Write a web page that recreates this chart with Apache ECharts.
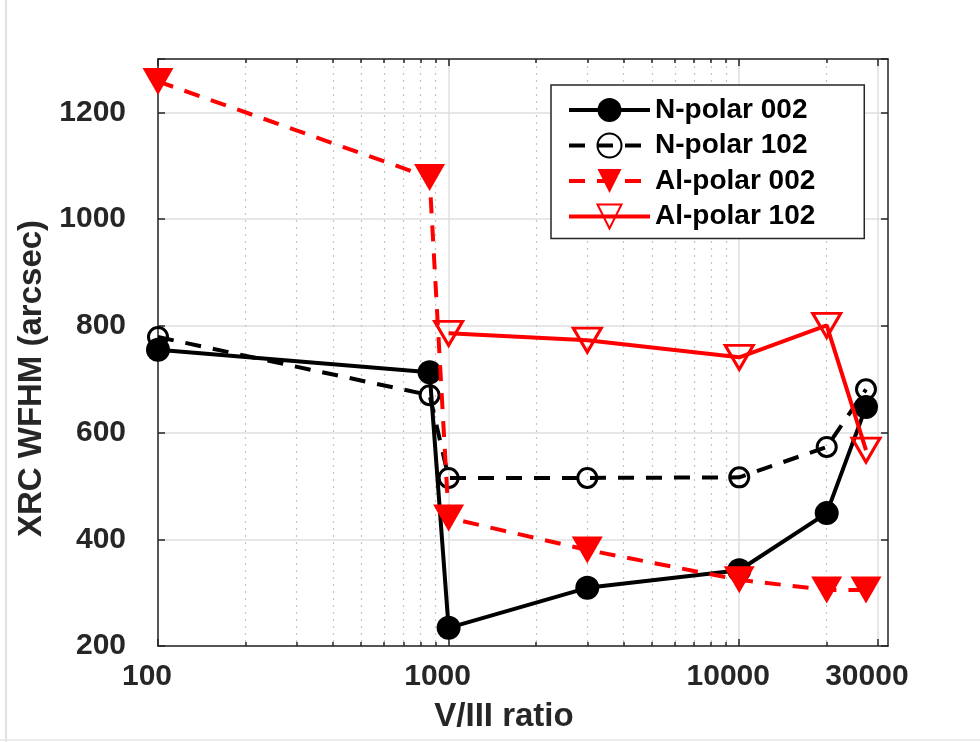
<!DOCTYPE html>
<html>
<head>
<meta charset="utf-8">
<script src="https://cdn.jsdelivr.net/npm/echarts@6/dist/echarts.min.js"></script>
<style>
  html, body { margin: 0; padding: 0; background: #fff; }
  #chart { width: 980px; height: 742px; }
</style>
</head>
<body>
<div id="chart"></div>
<script>
// V/III ratio positions of the samples
const ratioAll = [100, 860, 1000, 3000, 10000, 20000, 27300]
const ratioAl102 = [1000, 3000, 10000, 20000, 27300]

// XRC FWHM values (arcsec)
const nPolar002 = [755, 713, 234, 309, 342, 449, 648]
const nPolar102 = [779, 670, 515, 515, 516, 573, 681]
const alPolar002 = [1258, 1078, 440, 380, 324, 305, 305]
const alPolar102 = [786, 773, 741, 801, 567]

// tick values
const xMajorTicks = [100, 1000, 10000, 30000]
const xMinorTicks = [200, 300, 400, 500, 600, 700, 800, 900,
  2000, 3000, 4000, 5000, 6000, 7000, 8000, 9000, 20000]
const yTicks = [200, 400, 600, 800, 1000, 1200]

const axisColor = '#262626'
const fontFamily = '"Liberation Sans", Arial, Helvetica, sans-serif'

function pairs(xs, ys) {
  return xs.map((x, i) => [x, ys[i]])
}

const myChart = echarts.init(document.getElementById('chart'))

function logAxis(position, major, showLabel) {
  const ticks = major ? xMajorTicks : xMinorTicks
  return {
    type: 'log',
    logBase: 10,
    min: 100,
    max: 32500,
    position: position,
    axisLine: {show: major, onZero: false, lineStyle: {color: axisColor, width: 1.5}},
    axisTick: {show: true, inside: true, length: major ? 7 : 4, customValues: ticks,
      lineStyle: {color: axisColor, width: 1.5}},
    axisLabel: showLabel ? {
      show: true,
      customValues: xMajorTicks,
      formatter: v => String(Math.round(v)),
      fontSize: 30,
      fontWeight: 'bold',
      fontFamily: fontFamily,
      color: axisColor,
      margin: 16,
      padding: [0, 22, 0, 0]
    } : {show: false},
    splitLine: position === 'bottom' ? {
      show: true,
      lineStyle: major ? {color: '#dfdfdf', width: 1.5} : {color: '#c4c4c4', width: 1.2, type: [2, 5]}
    } : {show: false},
    minorTick: {show: false},
    minorSplitLine: {show: false},
    name: showLabel ? 'V/III ratio' : '',
    nameLocation: 'middle',
    nameGap: 54,
    nameTextStyle: {
      fontSize: 33, fontWeight: 'bold', fontFamily: fontFamily, color: axisColor,
      padding: [0, 38, 0, 0]
    }
  }
}

function valueAxis(position, showLabel) {
  return {
    type: 'value',
    min: 200,
    max: 1300,
    interval: 200,
    position: position,
    axisLine: {show: true, onZero: false, lineStyle: {color: axisColor, width: 1.5}},
    axisTick: {show: true, inside: true, length: 7, lineStyle: {color: axisColor, width: 1.5}},
    axisLabel: showLabel ? {
      show: true,
      customValues: yTicks,
      formatter: v => String(v),
      fontSize: 30,
      fontWeight: 'bold',
      fontFamily: fontFamily,
      color: axisColor,
      margin: 32
    } : {show: false},
    splitLine: position === 'left' ? {show: true, lineStyle: {color: '#dfdfdf', width: 1.5}} : {show: false},
    name: showLabel ? 'XRC WFHM (arcsec)' : '',
    nameLocation: 'middle',
    nameGap: 108,
    nameTextStyle: {
      fontSize: 33, fontWeight: 'bold', fontFamily: fontFamily, color: axisColor,
      padding: [0, 52, 0, 0]
    }
  }
}

let option = {
  animation: false,
  backgroundColor: '#fff',
  grid: {left: 158, right: 92, top: 59, bottom: 96, containLabel: false},
  graphic: [
    {type: 'line', shape: {x1: 6, y1: 0, x2: 6, y2: 742}, style: {stroke: '#d8d8d8', lineWidth: 1.5}, silent: true},
    {type: 'line', shape: {x1: 0, y1: 740, x2: 980, y2: 740}, style: {stroke: '#e6e6e6', lineWidth: 1.5}, silent: true}
  ],
  xAxis: [
    logAxis('bottom', false, false),
    logAxis('bottom', true, true),
    logAxis('top', false, false),
    logAxis('top', true, false)
  ],
  yAxis: [
    valueAxis('left', true),
    valueAxis('right', false)
  ],
  legend: {
    orient: 'vertical',
    left: 551,
    top: 85,
    padding: [11, 49, 8, 16],
    itemGap: 7.5,
    itemWidth: 81,
    itemHeight: 30,
    backgroundColor: '#fff',
    borderColor: axisColor,
    borderWidth: 1.5,
    borderRadius: 0,
    lineStyle: {width: 4},
    textStyle: {fontSize: 28, fontWeight: 'bold', fontFamily: fontFamily, color: '#000'},
    data: ['N-polar 002', 'N-polar 102', 'Al-polar 002', 'Al-polar 102']
  },
  series: [
    {
      name: 'N-polar 002',
      type: 'line',
      xAxisIndex: 1,
      data: pairs(ratioAll, nPolar002),
      symbol: 'circle',
      symbolSize: 24,
      itemStyle: {color: '#000'},
      lineStyle: {color: '#000', width: 4},
      z: 3
    },
    {
      name: 'N-polar 102',
      type: 'line',
      xAxisIndex: 1,
      data: pairs(ratioAll, nPolar102),
      symbol: 'circle',
      symbolSize: 19,
      itemStyle: {color: 'rgba(0,0,0,0)', borderColor: '#000', borderWidth: 3},
      lineStyle: {color: '#000', width: 4, type: [16, 12]},
      z: 4
    },
    {
      name: 'Al-polar 002',
      type: 'line',
      xAxisIndex: 1,
      data: pairs(ratioAll, alPolar002),
      symbol: 'triangle',
      symbolRotate: 180,
      symbolSize: [31, 27],
      itemStyle: {color: '#ff0000'},
      lineStyle: {color: '#ff0000', width: 4, type: [16, 12]},
      z: 5
    },
    {
      name: 'Al-polar 102',
      type: 'line',
      xAxisIndex: 1,
      data: pairs(ratioAl102, alPolar102),
      symbol: 'triangle',
      symbolRotate: 180,
      symbolSize: [28, 24],
      itemStyle: {color: 'rgba(255,255,255,0)', borderColor: '#ff0000', borderWidth: 3},
      lineStyle: {color: '#ff0000', width: 4},
      z: 6
    }
  ]
}
myChart.setOption(option)
</script>
</body>
</html>
